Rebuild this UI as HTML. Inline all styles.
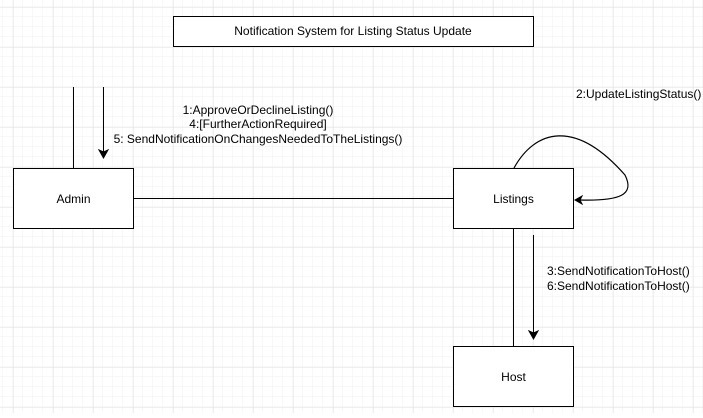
<!DOCTYPE html>
<html><head><style>
body{margin:0;width:703px;height:413px;overflow:hidden;background:#fff;font-family:"Liberation Sans",sans-serif;}
</style></head><body>
<svg width="703" height="413" xmlns="http://www.w3.org/2000/svg" font-family="Liberation Sans, sans-serif" font-size="12">
<defs>
<pattern id="g" x="3" y="7" width="10" height="10" patternUnits="userSpaceOnUse"><path d="M10 0V10M0 10H10" stroke="#f0f0f0" stroke-width="1" fill="none"/></pattern>
<pattern id="G" x="13" y="7" width="40" height="40" patternUnits="userSpaceOnUse"><path d="M0 0V40M0 0H40" stroke="#e2e2e2" stroke-width="1" fill="none"/></pattern>
</defs>
<rect width="703" height="413" fill="url(#g)"/>
<rect width="703" height="413" fill="url(#G)"/>
<rect x="173.5" y="16.5" width="360" height="30" fill="#fff" stroke="#000"/>
<text x="353" y="35" text-anchor="middle">Notification System for Listing Status Update</text>
<line x1="73.5" y1="87" x2="73.5" y2="168" stroke="#000"/>
<line x1="103.5" y1="87" x2="103.5" y2="152" stroke="#000"/>
<path d="M99 150L103.5 158L108 150L103.5 152Z" fill="#000" stroke="#000"/>
<line x1="133" y1="198.5" x2="453" y2="198.5" stroke="#000"/>
<line x1="513.5" y1="228" x2="513.5" y2="346" stroke="#000"/>
<line x1="533.5" y1="235" x2="533.5" y2="333" stroke="#000"/>
<path d="M529 331L533.5 339L538 331L533.5 333Z" fill="#000" stroke="#000"/>
<path d="M514 168C535 130 575 118 625 175C635 195 620 201 580 200" fill="none" stroke="#000" stroke-width="1.2"/>
<path d="M582 196L575 200L582 204L580 200Z" fill="#000" stroke="#000"/>
<rect x="13.5" y="168.5" width="120" height="60" fill="#fff" stroke="#000"/>
<text x="73.5" y="203" text-anchor="middle">Admin</text>
<rect x="453.5" y="168.5" width="120" height="60" fill="#fff" stroke="#000"/>
<text x="513.5" y="203" text-anchor="middle">Listings</text>
<rect x="453.5" y="346.5" width="120" height="60" fill="#fff" stroke="#000"/>
<text x="513.5" y="381" text-anchor="middle">Host</text>
<text x="258" y="114" text-anchor="middle">1:ApproveOrDeclineListing()</text>
<text x="258" y="128" text-anchor="middle">4:[FurtherActionRequired]</text>
<text x="258" y="143" text-anchor="middle">5: SendNotificationOnChangesNeededToTheListings()</text>
<text x="576" y="98">2:UpdateListingStatus()</text>
<text x="547" y="275">3:SendNotificationToHost()</text>
<text x="547" y="290">6:SendNotificationToHost()</text>
</svg>
</body></html>
